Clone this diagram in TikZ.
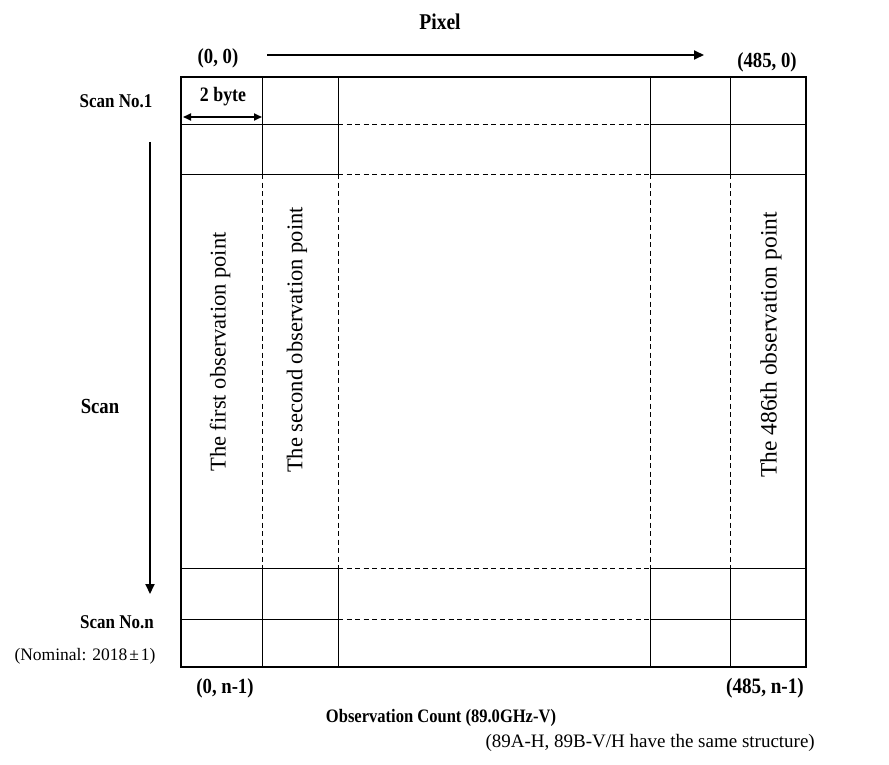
\documentclass[tikz,border=0pt]{standalone}
\usepackage{fontspec}
\setmainfont{Liberation Serif}
\newfontfamily\narrowbold{Liberation Serif}[FakeStretch=0.87]
\usetikzlibrary{positioning,arrows.meta}

\begin{document}
\begin{tikzpicture}[x=1pt, y=-1pt,
    lbl/.style={font=\fontsize{21}{24}\narrowbold\bfseries, inner sep=0pt},
    note/.style={font=\fontsize{19}{22}\selectfont, inner sep=0pt},
    vtext/.style={rotate=90, font=\fontsize{22.5}{26}\selectfont, inner sep=0pt},
    cell/.style={line width=0.9pt},
    gap/.style={line width=0.9pt, dash pattern=on 5pt off 3.5pt},
    dir/.style={line width=1.8pt, -{Triangle[length=10pt, width=9pt]}}]
        \useasboundingbox (0,0) rectangle (889,765);

        % Corners of the count table
        \coordinate (tl) at (181,77);
        \coordinate (br) at (806,667);

        % Columns 1, 2, 485, 486 and scan rows 1, 2, n-1, n
        \draw[cell] (262,77) -- (262,174) (262,568) -- (262,667);
        \draw[cell] (338,77) -- (338,174) (338,568) -- (338,667);
        \draw[cell] (650,77) -- (650,174) (650,568) -- (650,667);
        \draw[cell] (730,77) -- (730,174) (730,568) -- (730,667);
        \draw[gap] (262,174) -- (262,568);
        \draw[gap] (338,174) -- (338,568);
        \draw[gap] (650,174) -- (650,568);
        \draw[gap] (730,174) -- (730,568);

        \draw[cell] (181,124) -- (338,124) (650,124) -- (806,124);
        \draw[cell] (181,174) -- (338,174) (650,174) -- (806,174);
        \draw[cell] (181,568) -- (338,568) (650,568) -- (806,568);
        \draw[cell] (181,619) -- (338,619) (650,619) -- (806,619);
        \draw[gap] (338,124) -- (650,124);
        \draw[gap] (338,174) -- (650,174);
        \draw[gap] (338,568) -- (650,568);
        \draw[gap] (338,619) -- (650,619);

        \draw[line width=2pt] (tl) rectangle (br);

        % Pixel direction
        \node[lbl, font=\fontsize{22.5}{26}\narrowbold\bfseries] (pixel) at (440,22) {Pixel};
        \node[lbl, font=\fontsize{21.5}{25}\narrowbold\bfseries] (first) at (218,58) {(0, 0)};
        \node[lbl, font=\fontsize{21.5}{25}\narrowbold\bfseries] (last) at (767,62) {(485, 0)};
        \coordinate (pstart) at (267,55);
        \coordinate (pend) at (704,55);
        \draw[dir] (pstart) -- (pend);

        % One cell is two bytes wide
        \node[lbl, font=\fontsize{20.5}{24}\narrowbold\bfseries] (byte) at (223,97) {2 byte};
        \coordinate (bleft) at (183,117);
        \coordinate (bright) at (262,117);
        \draw[line width=1.8pt, {Triangle[length=8pt, width=7pt]}-{Triangle[length=8pt, width=7pt]}] (bleft) -- (bright);

        % Scan direction
        \node[lbl, font=\fontsize{19.5}{23}\narrowbold\bfseries] (scan1) at (116,101) {Scan No.1};
        \node[lbl, font=\fontsize{21.5}{25}\narrowbold\bfseries] (scan) at (100,406) {Scan};
        \node[lbl, font=\fontsize{19.5}{23}\narrowbold\bfseries] (scann) at (117,622) {Scan No.n};
        \node[note, font=\fontsize{17.5}{20}\selectfont] (nominal) at (85,656) {(Nominal: 2018\hspace{2pt}±\hspace{2pt}1)};
        \coordinate (sstart) at (150,142);
        \coordinate (send) at (150,594);
        \draw[dir] (sstart) -- (send);

        % Observation points
        \node[vtext] (obs1) at (220,352) {The first observation point};
        \node[vtext] (obs2) at (297,340) {The second observation point};
        \node[vtext, font=\fontsize{23.5}{27}\selectfont] (obs486) at (771,345) {The 486th observation point};

        % Bottom corners and title
        \node[lbl, font=\fontsize{21.5}{25}\narrowbold\bfseries] (corner0) at (225,688) {(0, n-1)};
        \node[lbl, font=\fontsize{22}{25}\narrowbold\bfseries] (corner485) at (765,688) {(485, n-1)};
        \node[lbl, font=\fontsize{19}{22}\narrowbold\bfseries] (title) at (441,718) {Observation Count (89.0GHz-V)};
        \node[note, anchor=east] (same) at (815,743) {(89A-H, 89B-V/H have the same structure)};
      \end{tikzpicture}
\end{document}
